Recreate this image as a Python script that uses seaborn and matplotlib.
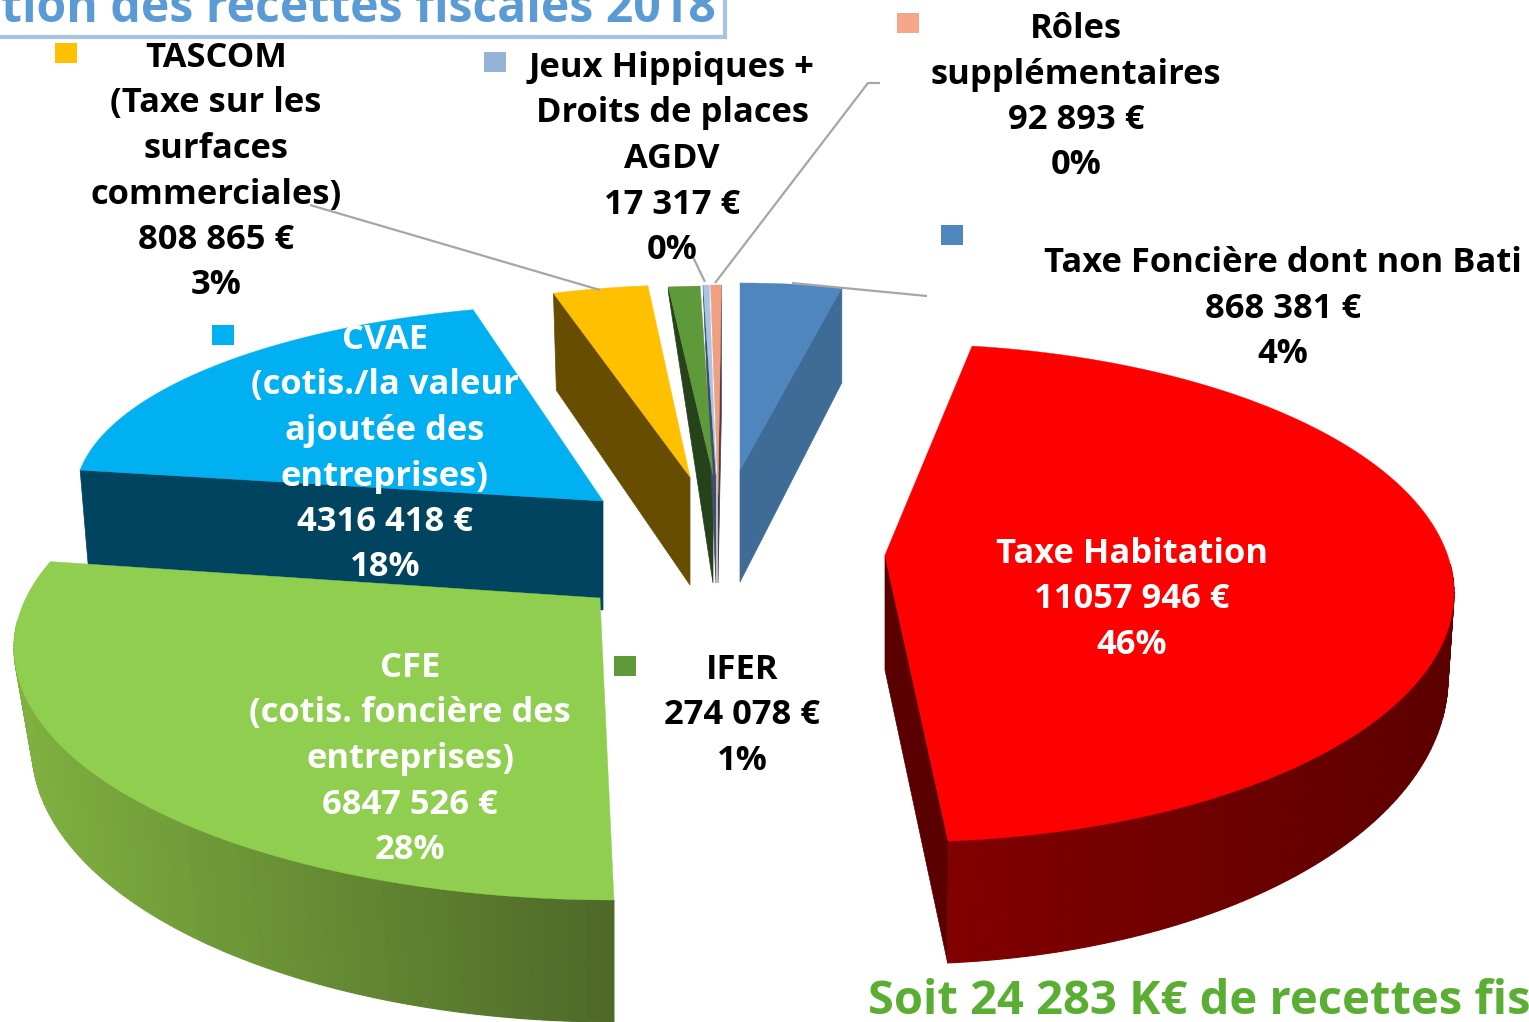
import numpy as np
import matplotlib
matplotlib.use("Agg")
import matplotlib.pyplot as plt
from matplotlib.patches import Rectangle
import seaborn as sns

# ---------- data (clockwise from 12 o'clock) ----------
categories = ["Taxe Foncière dont non Bati", "Taxe Habitation", "CFE", "CVAE", "TASCOM",
              "IFER", "Jeux Hippiques", "Rôles supplémentaires"]
values = [868381, 11057946, 6847526, 4316418, 808865, 274078, 17317, 92893]
amount_labels = ["868 381 €", "11057 946 €", "6847 526 €", "4316 418 €", "808 865 €",
                 "274 078 €", "17 317 €", "92 893 €"]
percent_labels = ["4%", "46%", "28%", "18%", "3%", "1%", "0%", "0%"]
name_lines = [["Taxe Foncière dont non Bati"], ["Taxe Habitation"],
              ["CFE", "(cotis. foncière des", "entreprises)"],
              ["CVAE", "(cotis./la valeur", "ajoutée des", "entreprises)"],
              ["TASCOM", "(Taxe sur les", "surfaces", "commerciales)"],
              ["IFER"], ["Jeux Hippiques +", "Droits de places", "AGDV"],
              ["Rôles", "supplémentaires"]]
title_text = "tion des recettes fiscales 2018"
total_text = "Soit 24 283 K€ de recettes fis"

# ---------- styling / layout ----------
sns.set_theme(style="white")
plt.rcParams["font.family"] = ["Open Sans", "DejaVu Sans"]
W, H = 1529, 1022
FS = 24.8
LINE = 45.5

top_colors = ["#4f86bd", "#ff0000", "#8fce4e", "#00b0f0", "#ffc000", "#5f9a3a", "#a9c4e4", "#f0a080"]
side_from = ["#3f6c96", "#820000", "#7fb040", "#00445f", "#664d00", "#25421a", "#3f4f6a", "#4a3f45"]
side_to = ["#3f6c96", "#5c0000", "#4d6828", "#00445f", "#664d00", "#25421a", "#3f4f6a", "#4a3f45"]
face_colors = ["#3f6c96", "#5a0000", "#4d6828", "#00445f", "#664d00", "#25421a", "#3f4f6a", "#4a3f45"]

# apex, ellipse centre, radii, rotation, angular stretch, depth (far + near), depth x-shift,
# depth at apex, which cut face shows
layout = [
    dict(a=(740, 470), c=(740, 470), r=(457, 187), rot=0.0, st=1.00, d0=95, d1=0, wdx=0, ad=112, face="end"),
    dict(a=(885, 555), c=(900, 593), r=(554, 249), rot=5.4, st=1.022, d0=85, d1=37, wdx=-6, ad=115, face="end"),
    dict(a=(600, 598), c=(614, 648), r=(600, 252), rot=-3.2, st=1.084, d0=100, d1=22, wdx=-18, ad=0, face=None),
    dict(a=(603, 501), c=(600, 497), r=(525, 193), rot=0.3, st=1.0625, d0=105, d1=0, wdx=-9, ad=109, face="start"),
    dict(a=(690, 477), c=(690, 477), r=(470, 192), rot=-0.8, st=0.98, d0=97, d1=0, wdx=-10, ad=108, face="start"),
    dict(a=(713, 475), c=(713, 475), r=(450, 189), rot=0.0, st=1.00, d0=5, d1=0, wdx=0, ad=108, face="start"),
    dict(a=(716, 475), c=(716, 475), r=(450, 190), rot=0.0, st=3.00, d0=5, d1=0, wdx=0, ad=108, face="start"),
    dict(a=(718, 495), c=(719, 495), r=(450, 210), rot=-0.3, st=1.00, d0=130, d1=0, wdx=0, ad=88, face="end"),
]
draw_order = [3, 0, 4, 5, 6, 7, 1, 2]

label_pos = [(1283, 263, "black"), (1132, 554, "white"), (410, 668, "white"), (385, 340, "white"),
             (216, 58, "black"), (742, 670, "black"), (672, 68, "black"), (1076, 29, "black")]
key_pos = [(941, 225), (960, 541), (205, 654), (212, 325), (55, 43), (614, 656), (484, 52), (897, 13)]
key_colors = ["#4f86bd", "#ff0000", "#8fce4e", "#00b0f0", "#ffc000", "#5f9a3a", "#95b3d7", "#f4a58a"]
leaders = [([310, 600], [205, 290]), ([693, 705], [257, 282]),
           ([880, 868, 715], [83, 83, 283]), ([792, 927], [283, 296])]

fig = plt.figure(figsize=(W / 100, H / 100), dpi=100, facecolor="white")
ax = fig.add_axes([0, 0, 1, 1])
ax.set_xlim(0, W)
ax.set_ylim(H, 0)
ax.axis("off")

fractions = np.array(values, dtype=float) / np.sum(values)
starts = 90 - 360 * np.concatenate([[0], np.cumsum(fractions)[:-1]])


def arc_point(L, deg):
    t = np.radians(deg)
    return (L["c"][0] + L["r"][0] * np.cos(t), L["c"][1] - L["r"][1] * np.sin(t))


def lower(L, deg, x, y):
    t = np.radians(deg)
    return (x + L["wdx"] * np.cos(t), y + L["d0"] + L["d1"] * (-np.sin(t)))


for i in draw_order:
    L = layout[i]
    t0 = starts[i] + L["rot"]
    t1 = t0 - 360 * fractions[i] * L["st"]
    thetas = np.linspace(t0, t1, 160)
    arc = np.array([arc_point(L, t) for t in thetas])
    ax_, ay_ = L["a"]

    # cut face
    if L["face"]:
        t = t0 if L["face"] == "start" else t1
        p = arc_point(L, t)
        q = lower(L, t, *p)
        ax.fill([ax_, p[0], q[0], ax_], [ay_, p[1], q[1], ay_ + L["ad"]],
                color=face_colors[i], lw=0.5, zorder=2)

    # outer wall, as a strip of quads shaded left to right
    vis = [t for t in thetas if np.sin(np.radians(t)) < 0.12]
    if len(vis) > 1 and L["d0"] > 20:
        vis = np.array(vis)
        n = len(vis) - 1
        xs = np.array([arc_point(L, t)[0] for t in vis])
        norm = (xs - xs.min()) / max(xs.max() - xs.min(), 1)
        pal = sns.blend_palette([side_from[i], side_to[i]], 64)
        for k in range(n):
            p0, p1 = arc_point(L, vis[k]), arc_point(L, vis[k + 1])
            q0, q1 = lower(L, vis[k], *p0), lower(L, vis[k + 1], *p1)
            col = pal[int(norm[k] * 63)]
            ax.fill([p0[0], p1[0], q1[0], q0[0]], [p0[1], p1[1], q1[1], q0[1]],
                    color=col, lw=0.8, zorder=2)

    # top face
    ax.fill(np.r_[ax_, arc[:, 0]], np.r_[ay_, arc[:, 1]], color=top_colors[i], lw=0.3, zorder=3)

# leader lines
for lx, ly in leaders:
    ax.plot(lx, ly, color="#a6a6a6", lw=1.6, zorder=4, solid_capstyle="butt")

# legend keys inside the data labels
for (kx, ky), kc in zip(key_pos, key_colors):
    ax.add_patch(Rectangle((kx, ky), 22, 20, facecolor=kc, edgecolor="none", zorder=4))

# data labels
for i in range(len(categories)):
    x, y, col = label_pos[i]
    lines = name_lines[i] + [amount_labels[i], percent_labels[i]]
    for j, s in enumerate(lines):
        ax.text(x, y + j * LINE, s, ha="center", va="center", color=col, fontsize=FS,
                fontweight="bold", zorder=5)

# title box (cut by the top edge)
ax.add_patch(Rectangle((-6, -10), 731, 47, facecolor="white", edgecolor="#a6c3e6", lw=3, zorder=4))
ax.text(716, 22, title_text, ha="right", va="baseline", color="#5b9bd5", fontsize=34.7,
        fontweight="bold", zorder=5)

# total
ax.text(868, 1014, total_text, ha="left", va="baseline", color="#5aaf32", fontsize=33.9,
        fontweight="bold", zorder=5)

fig.savefig("out.png", dpi=100, facecolor="white")
